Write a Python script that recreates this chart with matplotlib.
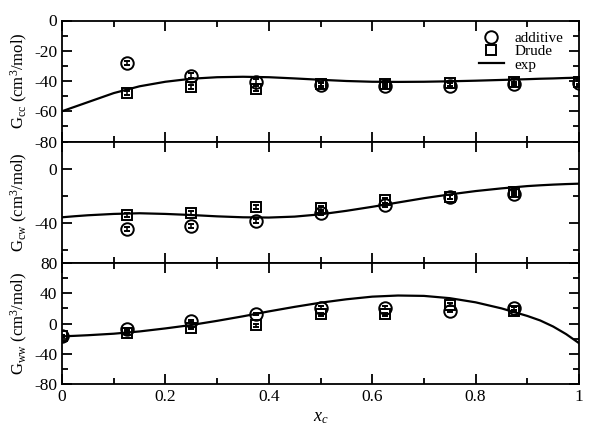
import matplotlib
matplotlib.use('Agg')
import matplotlib.pyplot as plt
from matplotlib.lines import Line2D
from matplotlib.ticker import MultipleLocator, FuncFormatter

plt.rcParams['font.family'] = ['Liberation Serif', 'DejaVu Serif']
plt.rcParams['mathtext.fontset'] = 'custom'
plt.rcParams['mathtext.rm'] = 'Liberation Serif'
plt.rcParams['mathtext.it'] = 'Liberation Serif:italic'

# simulation points
xc = [0.125, 0.25, 0.375, 0.5, 0.625, 0.75, 0.875, 1.0]
gcc_add = [-28, -36.5, -40.5, -42.8, -43.3, -43, -42, -41.5]
gcc_drude = [-48, -44, -45, -42, -42, -41.5, -40.5, -40.5]

xcw = [0.125, 0.25, 0.375, 0.5, 0.625, 0.75, 0.875]
gcw_add = [-44.5, -42.5, -38.5, -32.5, -26.5, -21, -19]
gcw_drude = [-34, -33, -28.5, -29, -23.5, -21, -17]

xww = [0.0, 0.125, 0.25, 0.375, 0.5, 0.625, 0.75, 0.875]
gww_add = [-17, -7, 3, 13, 21, 21, 17, 20]
gww_drude = [-17, -12, -6, -2.5, 12, 12, 25, 17]

err = 1.5

xe = [0.0, 0.025, 0.05, 0.1, 0.15, 0.2, 0.25, 0.3, 0.35, 0.4, 0.45, 0.5, 0.55, 0.6, 0.65,
      0.7, 0.75, 0.8, 0.85, 0.9, 0.925, 0.95, 0.975, 1.0]
gcc_exp = [-60, -57, -54, -48, -43.5, -40.5, -38.5, -37.5, -37.2, -37.5, -38.3, -39.2, -40,
           -40.5, -40.6, -40.5, -40.2, -39.8, -39.3, -38.8, -38.5, -38.3, -38, -37.8]
gcw_exp = [-36, -35.2, -34.5, -33.5, -33, -33.5, -34.3, -35.3, -36, -36.2, -35.5, -33.8, -31.2,
           -28.2, -25, -21.8, -19, -16.5, -14.5, -12.8, -12.2, -11.7, -11.3, -11]
gww_exp = [-17, -16.3, -15.5, -13.5, -10.5, -6.5, -2, 3.5, 9.5, 16, 22, 27.5, 32, 35.5, 37,
           36.5, 33.5, 28, 20, 10, 4, -4, -14, -26]

ylabels = [r'G$_{\rm cc}$ (cm$^{3}$/mol)', r'G$_{\rm cw}$ (cm$^{3}$/mol)',
           r'G$_{\rm ww}$ (cm$^{3}$/mol)']

fig = plt.figure(figsize=(6, 4.26), dpi=100)
left, width = 62 / 600, 517 / 600
h = 121 / 426
bottoms = [1 - 141.5 / 426, 1 - 263 / 426, 1 - 384 / 426]
axes = [fig.add_axes([left, b, width, h]) for b in bottoms]

mk = dict(mfc='none', mec='black', mew=1.4, ls='none', ecolor='black',
          elinewidth=1.1, capsize=2.5, capthick=1.1)

data = [
    (xc, gcc_add, xc, gcc_drude, gcc_exp, (-80, 0), 20, 10),
    (xcw, gcw_add, xcw, gcw_drude, gcw_exp, (-70, 20), 40, 20),
    (xww, gww_add, xww, gww_drude, gww_exp, (-80, 80), 40, 20),
]

for i, (ax, d) in enumerate(zip(axes, data)):
    xa, ya, xd, yd, ye, ylim, maj, mnr = d
    ax.plot(xe, ye, color='black', lw=1.6, zorder=2)
    ax.errorbar(xa, ya, yerr=err, marker='o', ms=9, **mk)
    ax.errorbar(xd, yd, yerr=err, marker='s', ms=7.8, **mk)
    ax.set_xlim(0, 1)
    ax.set_ylim(*ylim)
    ax.xaxis.set_major_locator(MultipleLocator(0.2))
    ax.xaxis.set_minor_locator(MultipleLocator(0.1))
    ax.yaxis.set_major_locator(MultipleLocator(maj))
    ax.yaxis.set_minor_locator(MultipleLocator(mnr))
    ax.yaxis.set_major_formatter(FuncFormatter(lambda v, p: '%g' % v))
    ax.xaxis.set_major_formatter(FuncFormatter(lambda v, p: '%g' % v))
    ax.tick_params(which='both', direction='in', top=True, right=True,
                   labelsize=12.5, width=1.3)
    ax.tick_params(which='major', length=7)
    ax.tick_params(which='minor', length=4)
    for s in ax.spines.values():
        s.set_linewidth(1.3)
    if i < 2:
        ax.tick_params(labelbottom=False)
    ax.set_ylabel(ylabels[i], fontsize=12, labelpad=3)

handles = [
    Line2D([], [], marker='o', ms=9, mfc='none', mec='black', mew=1.4, ls='none'),
    Line2D([], [], marker='s', ms=7.8, mfc='none', mec='black', mew=1.4, ls='none'),
    Line2D([], [], color='black', lw=1.6),
]
axes[0].legend(handles, ['additive', 'Drude', 'exp'], loc='upper right',
               frameon=False, fontsize=11, handlelength=1.6, handletextpad=0.7,
               labelspacing=-0.02, borderaxespad=0.3, bbox_to_anchor=(0.99, 1.0))

axes[2].set_xlabel(r'$x_c$', fontsize=13, labelpad=3)

fig.savefig('out.png', dpi=100)
